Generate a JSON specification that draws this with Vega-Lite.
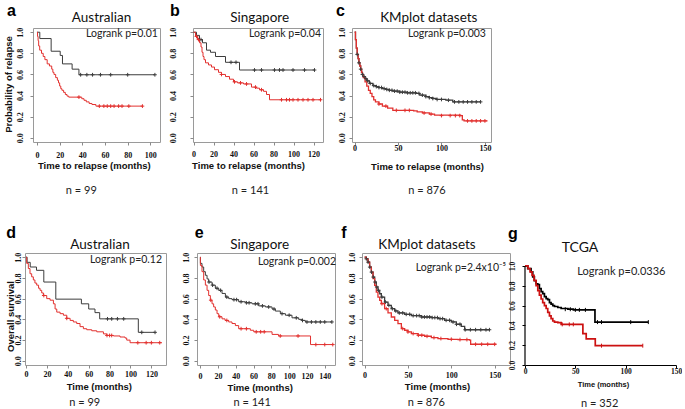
{
"$schema": "https://vega.github.io/schema/vega-lite/v6.json",
"background": "white",
"padding": {"left": 3, "top": 2, "right": 0, "bottom": 0},
"datasets": {
"labels": [
{"p":"a","letter":"a","name":"Australian","logrank":"Logrank p=0.01","n":"n = 99"},
{"p":"b","letter":"b","name":"Singapore","logrank":"Logrank p=0.04","n":"n = 141"},
{"p":"c","letter":"c","name":"KMplot datasets","logrank":"Logrank p=0.003","n":"n = 876"},
{"p":"d","letter":"d","name":"Australian","logrank":"Logrank p=0.12","n":"n = 99"},
{"p":"e","letter":"e","name":"Singapore","logrank":"Logrank p=0.002","n":"n = 141"},
{"p":"f","letter":"f","name":"KMplot datasets","logrank":"Logrank p=2.4x10⁻⁵","n":"n = 876"},
{"p":"g","letter":"g","name":"TCGA","logrank":"Logrank p=0.0336","n":"n = 352"}
],
"curves": [
{"p":"a","grp":"G1","month":0,"surv":1},{"p":"a","grp":"G1","month":2.5,"surv":0.94},{"p":"a","grp":"G1","month":12.5,"surv":0.82},{"p":"a","grp":"G1","month":20.5,"surv":0.78},{"p":"a","grp":"G1","month":22.5,"surv":0.70},{"p":"a","grp":"G1","month":31,"surv":0.65},{"p":"a","grp":"G1","month":37,"surv":0.597},{"p":"a","grp":"G1","month":104,"surv":0.597},
{"p":"a","grp":"G2","month":0,"surv":1},{"p":"a","grp":"G2","month":0.5,"surv":0.96},{"p":"a","grp":"G2","month":1,"surv":0.92},{"p":"a","grp":"G2","month":1.5,"surv":0.87},{"p":"a","grp":"G2","month":2.4,"surv":0.83},{"p":"a","grp":"G2","month":4,"surv":0.80},{"p":"a","grp":"G2","month":5.5,"surv":0.77},{"p":"a","grp":"G2","month":7,"surv":0.74},{"p":"a","grp":"G2","month":9,"surv":0.70},{"p":"a","grp":"G2","month":11,"surv":0.68},{"p":"a","grp":"G2","month":13,"surv":0.65},{"p":"a","grp":"G2","month":14,"surv":0.62},{"p":"a","grp":"G2","month":15,"surv":0.60},{"p":"a","grp":"G2","month":16.5,"surv":0.57},{"p":"a","grp":"G2","month":18,"surv":0.545},{"p":"a","grp":"G2","month":19,"surv":0.52},{"p":"a","grp":"G2","month":20,"surv":0.49},{"p":"a","grp":"G2","month":21,"surv":0.465},{"p":"a","grp":"G2","month":22,"surv":0.45},{"p":"a","grp":"G2","month":23.5,"surv":0.43},{"p":"a","grp":"G2","month":25,"surv":0.41},{"p":"a","grp":"G2","month":26.5,"surv":0.395},{"p":"a","grp":"G2","month":28,"surv":0.385},{"p":"a","grp":"G2","month":39.5,"surv":0.37},{"p":"a","grp":"G2","month":41.5,"surv":0.355},{"p":"a","grp":"G2","month":43.5,"surv":0.34},{"p":"a","grp":"G2","month":46,"surv":0.325},{"p":"a","grp":"G2","month":48.5,"surv":0.315},{"p":"a","grp":"G2","month":52,"surv":0.30},{"p":"a","grp":"G2","month":93,"surv":0.30},
{"p":"b","grp":"G1","month":0,"surv":1},{"p":"b","grp":"G1","month":3,"surv":0.97},{"p":"b","grp":"G1","month":6,"surv":0.93},{"p":"b","grp":"G1","month":9,"surv":0.90},{"p":"b","grp":"G1","month":13,"surv":0.83},{"p":"b","grp":"G1","month":17,"surv":0.81},{"p":"b","grp":"G1","month":22,"surv":0.77},{"p":"b","grp":"G1","month":32,"surv":0.715},{"p":"b","grp":"G1","month":46,"surv":0.642},{"p":"b","grp":"G1","month":121,"surv":0.642},
{"p":"b","grp":"G2","month":0,"surv":1},{"p":"b","grp":"G2","month":2,"surv":0.96},{"p":"b","grp":"G2","month":4,"surv":0.93},{"p":"b","grp":"G2","month":6,"surv":0.90},{"p":"b","grp":"G2","month":7.5,"surv":0.86},{"p":"b","grp":"G2","month":8.5,"surv":0.81},{"p":"b","grp":"G2","month":9.5,"surv":0.77},{"p":"b","grp":"G2","month":10.5,"surv":0.74},{"p":"b","grp":"G2","month":12,"surv":0.71},{"p":"b","grp":"G2","month":15,"surv":0.69},{"p":"b","grp":"G2","month":18,"surv":0.67},{"p":"b","grp":"G2","month":21,"surv":0.645},{"p":"b","grp":"G2","month":25,"surv":0.62},{"p":"b","grp":"G2","month":28,"surv":0.60},{"p":"b","grp":"G2","month":32,"surv":0.58},{"p":"b","grp":"G2","month":36,"surv":0.555},{"p":"b","grp":"G2","month":40,"surv":0.53},{"p":"b","grp":"G2","month":44,"surv":0.52},{"p":"b","grp":"G2","month":50,"surv":0.51},{"p":"b","grp":"G2","month":58,"surv":0.48},{"p":"b","grp":"G2","month":63,"surv":0.47},{"p":"b","grp":"G2","month":66,"surv":0.455},{"p":"b","grp":"G2","month":70,"surv":0.44},{"p":"b","grp":"G2","month":73,"surv":0.41},{"p":"b","grp":"G2","month":76,"surv":0.36},{"p":"b","grp":"G2","month":127,"surv":0.36},
{"p":"c","grp":"G1","month":0,"surv":1},{"p":"c","grp":"G1","month":1,"surv":0.93},{"p":"c","grp":"G1","month":2,"surv":0.85},{"p":"c","grp":"G1","month":3,"surv":0.79},{"p":"c","grp":"G1","month":4,"surv":0.75},{"p":"c","grp":"G1","month":5,"surv":0.71},{"p":"c","grp":"G1","month":6,"surv":0.68},{"p":"c","grp":"G1","month":7,"surv":0.65},{"p":"c","grp":"G1","month":8,"surv":0.62},{"p":"c","grp":"G1","month":9,"surv":0.60},{"p":"c","grp":"G1","month":10,"surv":0.58},{"p":"c","grp":"G1","month":12,"surv":0.56},{"p":"c","grp":"G1","month":14,"surv":0.54},{"p":"c","grp":"G1","month":17,"surv":0.515},{"p":"c","grp":"G1","month":21,"surv":0.495},{"p":"c","grp":"G1","month":25,"surv":0.485},{"p":"c","grp":"G1","month":28,"surv":0.476},{"p":"c","grp":"G1","month":32,"surv":0.466},{"p":"c","grp":"G1","month":36,"surv":0.458},{"p":"c","grp":"G1","month":40,"surv":0.45},{"p":"c","grp":"G1","month":44,"surv":0.442},{"p":"c","grp":"G1","month":52,"surv":0.432},{"p":"c","grp":"G1","month":60,"surv":0.426},{"p":"c","grp":"G1","month":71,"surv":0.42},{"p":"c","grp":"G1","month":75,"surv":0.404},{"p":"c","grp":"G1","month":82,"surv":0.39},{"p":"c","grp":"G1","month":86,"surv":0.38},{"p":"c","grp":"G1","month":90,"surv":0.372},{"p":"c","grp":"G1","month":94,"surv":0.363},{"p":"c","grp":"G1","month":105,"surv":0.356},{"p":"c","grp":"G1","month":113,"surv":0.34},{"p":"c","grp":"G1","month":145,"surv":0.34},
{"p":"c","grp":"G2","month":0,"surv":1},{"p":"c","grp":"G2","month":1,"surv":0.93},{"p":"c","grp":"G2","month":2,"surv":0.85},{"p":"c","grp":"G2","month":3,"surv":0.79},{"p":"c","grp":"G2","month":4,"surv":0.75},{"p":"c","grp":"G2","month":5,"surv":0.71},{"p":"c","grp":"G2","month":6,"surv":0.68},{"p":"c","grp":"G2","month":7,"surv":0.65},{"p":"c","grp":"G2","month":8,"surv":0.62},{"p":"c","grp":"G2","month":9,"surv":0.60},{"p":"c","grp":"G2","month":10,"surv":0.57},{"p":"c","grp":"G2","month":12,"surv":0.53},{"p":"c","grp":"G2","month":14,"surv":0.49},{"p":"c","grp":"G2","month":16,"surv":0.45},{"p":"c","grp":"G2","month":18,"surv":0.42},{"p":"c","grp":"G2","month":20,"surv":0.39},{"p":"c","grp":"G2","month":22,"surv":0.36},{"p":"c","grp":"G2","month":24,"surv":0.34},{"p":"c","grp":"G2","month":28,"surv":0.32},{"p":"c","grp":"G2","month":32,"surv":0.30},{"p":"c","grp":"G2","month":38,"surv":0.28},{"p":"c","grp":"G2","month":44,"surv":0.26},{"p":"c","grp":"G2","month":68,"surv":0.255},{"p":"c","grp":"G2","month":72,"surv":0.245},{"p":"c","grp":"G2","month":78,"surv":0.235},{"p":"c","grp":"G2","month":86,"surv":0.225},{"p":"c","grp":"G2","month":92,"surv":0.215},{"p":"c","grp":"G2","month":122,"surv":0.21},{"p":"c","grp":"G2","month":124,"surv":0.17},{"p":"c","grp":"G2","month":126,"surv":0.16},{"p":"c","grp":"G2","month":153,"surv":0.16},
{"p":"d","grp":"G1","month":0,"surv":1},{"p":"d","grp":"G1","month":1,"surv":0.95},{"p":"d","grp":"G1","month":4,"surv":0.905},{"p":"d","grp":"G1","month":10,"surv":0.873},{"p":"d","grp":"G1","month":17,"surv":0.76},{"p":"d","grp":"G1","month":28.5,"surv":0.595},{"p":"d","grp":"G1","month":53,"surv":0.55},{"p":"d","grp":"G1","month":60,"surv":0.50},{"p":"d","grp":"G1","month":66,"surv":0.465},{"p":"d","grp":"G1","month":70.5,"surv":0.405},{"p":"d","grp":"G1","month":107.5,"surv":0.275},{"p":"d","grp":"G1","month":123.5,"surv":0.275},
{"p":"d","grp":"G2","month":0,"surv":1},{"p":"d","grp":"G2","month":0.6,"surv":0.94},{"p":"d","grp":"G2","month":2.2,"surv":0.89},{"p":"d","grp":"G2","month":3.8,"surv":0.84},{"p":"d","grp":"G2","month":5.4,"surv":0.81},{"p":"d","grp":"G2","month":7,"surv":0.78},{"p":"d","grp":"G2","month":8.5,"surv":0.75},{"p":"d","grp":"G2","month":10.2,"surv":0.73},{"p":"d","grp":"G2","month":12,"surv":0.70},{"p":"d","grp":"G2","month":13.4,"surv":0.68},{"p":"d","grp":"G2","month":15,"surv":0.655},{"p":"d","grp":"G2","month":16.6,"surv":0.63},{"p":"d","grp":"G2","month":19.8,"surv":0.60},{"p":"d","grp":"G2","month":23,"surv":0.585},{"p":"d","grp":"G2","month":26.2,"surv":0.55},{"p":"d","grp":"G2","month":27.8,"surv":0.50},{"p":"d","grp":"G2","month":29.4,"surv":0.47},{"p":"d","grp":"G2","month":32.6,"surv":0.455},{"p":"d","grp":"G2","month":35.8,"surv":0.44},{"p":"d","grp":"G2","month":39,"surv":0.41},{"p":"d","grp":"G2","month":42.2,"surv":0.39},{"p":"d","grp":"G2","month":45.3,"surv":0.375},{"p":"d","grp":"G2","month":48.5,"surv":0.36},{"p":"d","grp":"G2","month":51.7,"surv":0.33},{"p":"d","grp":"G2","month":54.9,"surv":0.31},{"p":"d","grp":"G2","month":58.1,"surv":0.30},{"p":"d","grp":"G2","month":62.9,"surv":0.29},{"p":"d","grp":"G2","month":67.7,"surv":0.28},{"p":"d","grp":"G2","month":74.1,"surv":0.26},{"p":"d","grp":"G2","month":77.3,"surv":0.245},{"p":"d","grp":"G2","month":83.7,"surv":0.24},{"p":"d","grp":"G2","month":90,"surv":0.23},{"p":"d","grp":"G2","month":94.8,"surv":0.22},{"p":"d","grp":"G2","month":96.4,"surv":0.20},{"p":"d","grp":"G2","month":99.6,"surv":0.175},{"p":"d","grp":"G2","month":130,"surv":0.175},
{"p":"e","grp":"G1","month":0,"surv":1},{"p":"e","grp":"G1","month":0.3,"surv":0.94},{"p":"e","grp":"G1","month":2.1,"surv":0.905},{"p":"e","grp":"G1","month":4,"surv":0.86},{"p":"e","grp":"G1","month":5.9,"surv":0.825},{"p":"e","grp":"G1","month":7.8,"surv":0.79},{"p":"e","grp":"G1","month":9.6,"surv":0.76},{"p":"e","grp":"G1","month":13.4,"surv":0.73},{"p":"e","grp":"G1","month":17.1,"surv":0.70},{"p":"e","grp":"G1","month":20.9,"surv":0.68},{"p":"e","grp":"G1","month":24.6,"surv":0.65},{"p":"e","grp":"G1","month":28.4,"surv":0.615},{"p":"e","grp":"G1","month":32.1,"surv":0.60},{"p":"e","grp":"G1","month":35.8,"surv":0.59},{"p":"e","grp":"G1","month":43.3,"surv":0.57},{"p":"e","grp":"G1","month":50.8,"surv":0.56},{"p":"e","grp":"G1","month":58.3,"surv":0.55},{"p":"e","grp":"G1","month":65.8,"surv":0.53},{"p":"e","grp":"G1","month":73.3,"surv":0.52},{"p":"e","grp":"G1","month":80.8,"surv":0.50},{"p":"e","grp":"G1","month":84.5,"surv":0.48},{"p":"e","grp":"G1","month":90.1,"surv":0.455},{"p":"e","grp":"G1","month":95.8,"surv":0.44},{"p":"e","grp":"G1","month":103.2,"surv":0.415},{"p":"e","grp":"G1","month":110.7,"surv":0.40},{"p":"e","grp":"G1","month":114.5,"surv":0.39},{"p":"e","grp":"G1","month":118.2,"surv":0.375},{"p":"e","grp":"G1","month":148,"surv":0.375},
{"p":"e","grp":"G2","month":0,"surv":1},{"p":"e","grp":"G2","month":0.3,"surv":0.92},{"p":"e","grp":"G2","month":2.1,"surv":0.86},{"p":"e","grp":"G2","month":4,"surv":0.78},{"p":"e","grp":"G2","month":5.9,"surv":0.73},{"p":"e","grp":"G2","month":7.8,"surv":0.68},{"p":"e","grp":"G2","month":9.6,"surv":0.63},{"p":"e","grp":"G2","month":11.5,"surv":0.585},{"p":"e","grp":"G2","month":13.4,"surv":0.55},{"p":"e","grp":"G2","month":15.2,"surv":0.52},{"p":"e","grp":"G2","month":17.1,"surv":0.49},{"p":"e","grp":"G2","month":19,"surv":0.455},{"p":"e","grp":"G2","month":20.9,"surv":0.425},{"p":"e","grp":"G2","month":24.6,"surv":0.405},{"p":"e","grp":"G2","month":28,"surv":0.39},{"p":"e","grp":"G2","month":32.1,"surv":0.375},{"p":"e","grp":"G2","month":35.8,"surv":0.36},{"p":"e","grp":"G2","month":39.6,"surv":0.34},{"p":"e","grp":"G2","month":43.3,"surv":0.31},{"p":"e","grp":"G2","month":56.4,"surv":0.295},{"p":"e","grp":"G2","month":60.2,"surv":0.28},{"p":"e","grp":"G2","month":80.8,"surv":0.255},{"p":"e","grp":"G2","month":88,"surv":0.24},{"p":"e","grp":"G2","month":124,"surv":0.157},{"p":"e","grp":"G2","month":149,"surv":0.157},
{"p":"f","grp":"G1","month":0,"surv":1},{"p":"f","grp":"G1","month":2,"surv":0.984},{"p":"f","grp":"G1","month":3.9,"surv":0.952},{"p":"f","grp":"G1","month":5.8,"surv":0.904},{"p":"f","grp":"G1","month":7.8,"surv":0.856},{"p":"f","grp":"G1","month":9.7,"surv":0.808},{"p":"f","grp":"G1","month":11.6,"surv":0.76},{"p":"f","grp":"G1","month":13.5,"surv":0.712},{"p":"f","grp":"G1","month":15.4,"surv":0.68},{"p":"f","grp":"G1","month":17.4,"surv":0.647},{"p":"f","grp":"G1","month":19.3,"surv":0.615},{"p":"f","grp":"G1","month":23.1,"surv":0.567},{"p":"f","grp":"G1","month":27,"surv":0.535},{"p":"f","grp":"G1","month":30.8,"surv":0.503},{"p":"f","grp":"G1","month":34.7,"surv":0.481},{"p":"f","grp":"G1","month":38.5,"surv":0.462},{"p":"f","grp":"G1","month":46.2,"surv":0.449},{"p":"f","grp":"G1","month":53.9,"surv":0.436},{"p":"f","grp":"G1","month":65.4,"surv":0.423},{"p":"f","grp":"G1","month":76.9,"surv":0.417},{"p":"f","grp":"G1","month":84.6,"surv":0.407},{"p":"f","grp":"G1","month":92.3,"surv":0.391},{"p":"f","grp":"G1","month":100,"surv":0.375},{"p":"f","grp":"G1","month":105.8,"surv":0.353},{"p":"f","grp":"G1","month":111.5,"surv":0.333},{"p":"f","grp":"G1","month":115.4,"surv":0.30},{"p":"f","grp":"G1","month":144,"surv":0.30},
{"p":"f","grp":"G2","month":0,"surv":1},{"p":"f","grp":"G2","month":2,"surv":0.984},{"p":"f","grp":"G2","month":3.9,"surv":0.952},{"p":"f","grp":"G2","month":5.8,"surv":0.904},{"p":"f","grp":"G2","month":7.8,"surv":0.856},{"p":"f","grp":"G2","month":9.7,"surv":0.792},{"p":"f","grp":"G2","month":11.6,"surv":0.728},{"p":"f","grp":"G2","month":13.5,"surv":0.663},{"p":"f","grp":"G2","month":15.4,"surv":0.615},{"p":"f","grp":"G2","month":17.4,"surv":0.583},{"p":"f","grp":"G2","month":19.3,"surv":0.551},{"p":"f","grp":"G2","month":23.1,"surv":0.503},{"p":"f","grp":"G2","month":27,"surv":0.462},{"p":"f","grp":"G2","month":30.8,"surv":0.423},{"p":"f","grp":"G2","month":34.7,"surv":0.391},{"p":"f","grp":"G2","month":38.5,"surv":0.359},{"p":"f","grp":"G2","month":42.4,"surv":0.311},{"p":"f","grp":"G2","month":46.2,"surv":0.295},{"p":"f","grp":"G2","month":50,"surv":0.279},{"p":"f","grp":"G2","month":53.9,"surv":0.263},{"p":"f","grp":"G2","month":61.6,"surv":0.247},{"p":"f","grp":"G2","month":69.3,"surv":0.237},{"p":"f","grp":"G2","month":77,"surv":0.224},{"p":"f","grp":"G2","month":84.6,"surv":0.215},{"p":"f","grp":"G2","month":96.2,"surv":0.208},{"p":"f","grp":"G2","month":107.7,"surv":0.205},{"p":"f","grp":"G2","month":121,"surv":0.199},{"p":"f","grp":"G2","month":122.3,"surv":0.16},{"p":"f","grp":"G2","month":152,"surv":0.16},
{"p":"g","grp":"G1","month":0,"surv":1},{"p":"g","grp":"G1","month":2.7,"surv":0.973},{"p":"g","grp":"G1","month":6,"surv":0.94},{"p":"g","grp":"G1","month":7.7,"surv":0.89},{"p":"g","grp":"G1","month":9.3,"surv":0.85},{"p":"g","grp":"G1","month":11,"surv":0.82},{"p":"g","grp":"G1","month":12.7,"surv":0.81},{"p":"g","grp":"G1","month":14.3,"surv":0.77},{"p":"g","grp":"G1","month":16,"surv":0.74},{"p":"g","grp":"G1","month":17.6,"surv":0.72},{"p":"g","grp":"G1","month":19.3,"surv":0.69},{"p":"g","grp":"G1","month":21,"surv":0.67},{"p":"g","grp":"G1","month":22.6,"surv":0.66},{"p":"g","grp":"G1","month":24.3,"surv":0.63},{"p":"g","grp":"G1","month":25.9,"surv":0.615},{"p":"g","grp":"G1","month":27.6,"surv":0.60},{"p":"g","grp":"G1","month":29.3,"surv":0.59},{"p":"g","grp":"G1","month":32.6,"surv":0.58},{"p":"g","grp":"G1","month":35.9,"surv":0.57},{"p":"g","grp":"G1","month":42.6,"surv":0.563},{"p":"g","grp":"G1","month":48,"surv":0.556},{"p":"g","grp":"G1","month":69.5,"surv":0.433},{"p":"g","grp":"G1","month":122.5,"surv":0.433},
{"p":"g","grp":"G2","month":0,"surv":1},{"p":"g","grp":"G2","month":3,"surv":0.973},{"p":"g","grp":"G2","month":5,"surv":0.94},{"p":"g","grp":"G2","month":7,"surv":0.905},{"p":"g","grp":"G2","month":9,"surv":0.853},{"p":"g","grp":"G2","month":11,"surv":0.80},{"p":"g","grp":"G2","month":12.7,"surv":0.75},{"p":"g","grp":"G2","month":14.3,"surv":0.706},{"p":"g","grp":"G2","month":16,"surv":0.666},{"p":"g","grp":"G2","month":17.6,"surv":0.63},{"p":"g","grp":"G2","month":19.3,"surv":0.60},{"p":"g","grp":"G2","month":21,"surv":0.57},{"p":"g","grp":"G2","month":22.6,"surv":0.53},{"p":"g","grp":"G2","month":24.3,"surv":0.495},{"p":"g","grp":"G2","month":25.9,"surv":0.468},{"p":"g","grp":"G2","month":27.6,"surv":0.444},{"p":"g","grp":"G2","month":29.3,"surv":0.433},{"p":"g","grp":"G2","month":32.6,"surv":0.427},{"p":"g","grp":"G2","month":35.9,"surv":0.41},{"p":"g","grp":"G2","month":57.5,"surv":0.317},{"p":"g","grp":"G2","month":60.8,"surv":0.263},{"p":"g","grp":"G2","month":69.8,"surv":0.195},{"p":"g","grp":"G2","month":117,"surv":0.195}
],
"censors": [
{"p":"a","grp":"G1","month":38.5,"surv":0.597},{"p":"a","grp":"G1","month":44,"surv":0.597},{"p":"a","grp":"G1","month":49,"surv":0.597},{"p":"a","grp":"G1","month":56,"surv":0.597},{"p":"a","grp":"G1","month":65,"surv":0.597},{"p":"a","grp":"G1","month":80,"surv":0.597},{"p":"a","grp":"G1","month":104,"surv":0.597},
{"p":"a","grp":"G2","month":37,"surv":0.385},{"p":"a","grp":"G2","month":55,"surv":0.30},{"p":"a","grp":"G2","month":59,"surv":0.30},{"p":"a","grp":"G2","month":62,"surv":0.30},{"p":"a","grp":"G2","month":65,"surv":0.30},{"p":"a","grp":"G2","month":68,"surv":0.30},{"p":"a","grp":"G2","month":72,"surv":0.30},{"p":"a","grp":"G2","month":75,"surv":0.30},{"p":"a","grp":"G2","month":81,"surv":0.30},{"p":"a","grp":"G2","month":93,"surv":0.30},
{"p":"b","grp":"G1","month":7.5,"surv":0.93},{"p":"b","grp":"G1","month":37.5,"surv":0.715},{"p":"b","grp":"G1","month":42.5,"surv":0.715},{"p":"b","grp":"G1","month":61,"surv":0.642},{"p":"b","grp":"G1","month":68,"surv":0.642},{"p":"b","grp":"G1","month":81,"surv":0.642},{"p":"b","grp":"G1","month":86,"surv":0.642},{"p":"b","grp":"G1","month":89.5,"surv":0.642},{"p":"b","grp":"G1","month":99.5,"surv":0.642},{"p":"b","grp":"G1","month":111,"surv":0.642},{"p":"b","grp":"G1","month":121,"surv":0.642},
{"p":"b","grp":"G2","month":3,"surv":0.96},{"p":"b","grp":"G2","month":5,"surv":0.93},{"p":"b","grp":"G2","month":28,"surv":0.60},{"p":"b","grp":"G2","month":41,"surv":0.53},{"p":"b","grp":"G2","month":47,"surv":0.52},{"p":"b","grp":"G2","month":53,"surv":0.51},{"p":"b","grp":"G2","month":62,"surv":0.48},{"p":"b","grp":"G2","month":68,"surv":0.455},{"p":"b","grp":"G2","month":88,"surv":0.36},{"p":"b","grp":"G2","month":93,"surv":0.36},{"p":"b","grp":"G2","month":96,"surv":0.36},{"p":"b","grp":"G2","month":99.5,"surv":0.36},{"p":"b","grp":"G2","month":104.5,"surv":0.36},{"p":"b","grp":"G2","month":109.5,"surv":0.36},{"p":"b","grp":"G2","month":114.5,"surv":0.36},{"p":"b","grp":"G2","month":119.5,"surv":0.36},{"p":"b","grp":"G2","month":127,"surv":0.36},
{"p":"c","grp":"G1","month":3,"surv":0.79},{"p":"c","grp":"G1","month":5,"surv":0.71},{"p":"c","grp":"G1","month":7,"surv":0.65},{"p":"c","grp":"G1","month":9,"surv":0.60},{"p":"c","grp":"G1","month":11,"surv":0.58},{"p":"c","grp":"G1","month":13,"surv":0.56},{"p":"c","grp":"G1","month":15,"surv":0.54},{"p":"c","grp":"G1","month":18,"surv":0.515},{"p":"c","grp":"G1","month":22,"surv":0.495},{"p":"c","grp":"G1","month":25,"surv":0.485},{"p":"c","grp":"G1","month":28,"surv":0.476},{"p":"c","grp":"G1","month":31,"surv":0.476},{"p":"c","grp":"G1","month":34,"surv":0.466},{"p":"c","grp":"G1","month":37,"surv":0.458},{"p":"c","grp":"G1","month":40,"surv":0.45},{"p":"c","grp":"G1","month":43,"surv":0.45},{"p":"c","grp":"G1","month":46,"surv":0.442},{"p":"c","grp":"G1","month":49,"surv":0.442},{"p":"c","grp":"G1","month":52,"surv":0.432},{"p":"c","grp":"G1","month":55,"surv":0.432},{"p":"c","grp":"G1","month":58,"surv":0.432},{"p":"c","grp":"G1","month":61,"surv":0.426},{"p":"c","grp":"G1","month":64,"surv":0.426},{"p":"c","grp":"G1","month":67,"surv":0.426},{"p":"c","grp":"G1","month":70,"surv":0.426},{"p":"c","grp":"G1","month":74,"surv":0.42},{"p":"c","grp":"G1","month":78,"surv":0.404},{"p":"c","grp":"G1","month":82,"surv":0.39},{"p":"c","grp":"G1","month":86,"surv":0.38},{"p":"c","grp":"G1","month":90,"surv":0.372},{"p":"c","grp":"G1","month":95,"surv":0.363},{"p":"c","grp":"G1","month":100,"surv":0.363},{"p":"c","grp":"G1","month":108,"surv":0.356},{"p":"c","grp":"G1","month":115,"surv":0.34},{"p":"c","grp":"G1","month":120,"surv":0.34},{"p":"c","grp":"G1","month":125,"surv":0.34},{"p":"c","grp":"G1","month":130,"surv":0.34},{"p":"c","grp":"G1","month":135,"surv":0.34},{"p":"c","grp":"G1","month":140,"surv":0.34},{"p":"c","grp":"G1","month":145,"surv":0.34},
{"p":"c","grp":"G2","month":28,"surv":0.32},{"p":"c","grp":"G2","month":36,"surv":0.30},{"p":"c","grp":"G2","month":48,"surv":0.26},{"p":"c","grp":"G2","month":58,"surv":0.26},{"p":"c","grp":"G2","month":63,"surv":0.26},{"p":"c","grp":"G2","month":80,"surv":0.235},{"p":"c","grp":"G2","month":88,"surv":0.225},{"p":"c","grp":"G2","month":100,"surv":0.21},{"p":"c","grp":"G2","month":110,"surv":0.21},{"p":"c","grp":"G2","month":116,"surv":0.21},{"p":"c","grp":"G2","month":121,"surv":0.21},{"p":"c","grp":"G2","month":130,"surv":0.16},{"p":"c","grp":"G2","month":135,"surv":0.16},{"p":"c","grp":"G2","month":140,"surv":0.16},{"p":"c","grp":"G2","month":145,"surv":0.16},{"p":"c","grp":"G2","month":150,"surv":0.16},
{"p":"d","grp":"G1","month":78,"surv":0.405},{"p":"d","grp":"G1","month":82,"surv":0.405},{"p":"d","grp":"G1","month":87.5,"surv":0.405},{"p":"d","grp":"G1","month":93.5,"surv":0.405},{"p":"d","grp":"G1","month":110.8,"surv":0.275},{"p":"d","grp":"G1","month":123.5,"surv":0.275},
{"p":"d","grp":"G2","month":17,"surv":0.63},{"p":"d","grp":"G2","month":39,"surv":0.41},{"p":"d","grp":"G2","month":77.5,"surv":0.245},{"p":"d","grp":"G2","month":80,"surv":0.245},{"p":"d","grp":"G2","month":82,"surv":0.245},{"p":"d","grp":"G2","month":107,"surv":0.175},{"p":"d","grp":"G2","month":115,"surv":0.175},{"p":"d","grp":"G2","month":120,"surv":0.175},{"p":"d","grp":"G2","month":128,"surv":0.175},
{"p":"e","grp":"G1","month":10,"surv":0.76},{"p":"e","grp":"G1","month":14,"surv":0.73},{"p":"e","grp":"G1","month":19,"surv":0.70},{"p":"e","grp":"G1","month":23,"surv":0.68},{"p":"e","grp":"G1","month":30,"surv":0.615},{"p":"e","grp":"G1","month":38,"surv":0.59},{"p":"e","grp":"G1","month":41,"surv":0.59},{"p":"e","grp":"G1","month":46,"surv":0.57},{"p":"e","grp":"G1","month":52,"surv":0.56},{"p":"e","grp":"G1","month":55,"surv":0.56},{"p":"e","grp":"G1","month":62,"surv":0.55},{"p":"e","grp":"G1","month":65,"surv":0.55},{"p":"e","grp":"G1","month":70,"surv":0.53},{"p":"e","grp":"G1","month":77,"surv":0.52},{"p":"e","grp":"G1","month":83,"surv":0.50},{"p":"e","grp":"G1","month":92,"surv":0.455},{"p":"e","grp":"G1","month":100,"surv":0.44},{"p":"e","grp":"G1","month":108,"surv":0.415},{"p":"e","grp":"G1","month":115,"surv":0.39},{"p":"e","grp":"G1","month":120,"surv":0.375},{"p":"e","grp":"G1","month":125,"surv":0.375},{"p":"e","grp":"G1","month":130,"surv":0.375},{"p":"e","grp":"G1","month":135,"surv":0.375},{"p":"e","grp":"G1","month":140,"surv":0.375},{"p":"e","grp":"G1","month":148,"surv":0.375},
{"p":"e","grp":"G2","month":12,"surv":0.585},{"p":"e","grp":"G2","month":22,"surv":0.425},{"p":"e","grp":"G2","month":30,"surv":0.39},{"p":"e","grp":"G2","month":46,"surv":0.31},{"p":"e","grp":"G2","month":52,"surv":0.31},{"p":"e","grp":"G2","month":63,"surv":0.28},{"p":"e","grp":"G2","month":68,"surv":0.28},{"p":"e","grp":"G2","month":72,"surv":0.28},{"p":"e","grp":"G2","month":90,"surv":0.24},{"p":"e","grp":"G2","month":110,"surv":0.24},{"p":"e","grp":"G2","month":130,"surv":0.157},{"p":"e","grp":"G2","month":140,"surv":0.157},{"p":"e","grp":"G2","month":149,"surv":0.157},
{"p":"f","grp":"G1","month":2,"surv":0.984},{"p":"f","grp":"G1","month":4,"surv":0.952},{"p":"f","grp":"G1","month":6,"surv":0.904},{"p":"f","grp":"G1","month":8,"surv":0.856},{"p":"f","grp":"G1","month":10,"surv":0.808},{"p":"f","grp":"G1","month":12,"surv":0.76},{"p":"f","grp":"G1","month":14,"surv":0.712},{"p":"f","grp":"G1","month":16,"surv":0.68},{"p":"f","grp":"G1","month":20,"surv":0.615},{"p":"f","grp":"G1","month":24,"surv":0.567},{"p":"f","grp":"G1","month":28,"surv":0.535},{"p":"f","grp":"G1","month":32,"surv":0.503},{"p":"f","grp":"G1","month":36,"surv":0.481},{"p":"f","grp":"G1","month":40,"surv":0.462},{"p":"f","grp":"G1","month":44,"surv":0.462},{"p":"f","grp":"G1","month":48,"surv":0.449},{"p":"f","grp":"G1","month":52,"surv":0.449},{"p":"f","grp":"G1","month":56,"surv":0.436},{"p":"f","grp":"G1","month":60,"surv":0.436},{"p":"f","grp":"G1","month":63,"surv":0.436},{"p":"f","grp":"G1","month":66,"surv":0.423},{"p":"f","grp":"G1","month":69,"surv":0.423},{"p":"f","grp":"G1","month":72,"surv":0.423},{"p":"f","grp":"G1","month":75,"surv":0.423},{"p":"f","grp":"G1","month":78,"surv":0.417},{"p":"f","grp":"G1","month":81,"surv":0.417},{"p":"f","grp":"G1","month":84,"surv":0.417},{"p":"f","grp":"G1","month":87,"surv":0.407},{"p":"f","grp":"G1","month":90,"surv":0.407},{"p":"f","grp":"G1","month":94,"surv":0.391},{"p":"f","grp":"G1","month":98,"surv":0.391},{"p":"f","grp":"G1","month":102,"surv":0.375},{"p":"f","grp":"G1","month":106,"surv":0.353},{"p":"f","grp":"G1","month":110,"surv":0.353},{"p":"f","grp":"G1","month":116,"surv":0.30},{"p":"f","grp":"G1","month":122,"surv":0.30},{"p":"f","grp":"G1","month":128,"surv":0.30},{"p":"f","grp":"G1","month":134,"surv":0.30},{"p":"f","grp":"G1","month":140,"surv":0.30},{"p":"f","grp":"G1","month":144,"surv":0.30},
{"p":"f","grp":"G2","month":20,"surv":0.551},{"p":"f","grp":"G2","month":25,"surv":0.503},{"p":"f","grp":"G2","month":44,"surv":0.311},{"p":"f","grp":"G2","month":50,"surv":0.279},{"p":"f","grp":"G2","month":56,"surv":0.263},{"p":"f","grp":"G2","month":62,"surv":0.247},{"p":"f","grp":"G2","month":66,"surv":0.247},{"p":"f","grp":"G2","month":72,"surv":0.237},{"p":"f","grp":"G2","month":80,"surv":0.224},{"p":"f","grp":"G2","month":88,"surv":0.215},{"p":"f","grp":"G2","month":100,"surv":0.208},{"p":"f","grp":"G2","month":110,"surv":0.205},{"p":"f","grp":"G2","month":118,"surv":0.205},{"p":"f","grp":"G2","month":128,"surv":0.16},{"p":"f","grp":"G2","month":135,"surv":0.16},{"p":"f","grp":"G2","month":142,"surv":0.16},{"p":"f","grp":"G2","month":150,"surv":0.16},
{"p":"g","grp":"G1","month":40,"surv":0.563},{"p":"g","grp":"G1","month":45,"surv":0.563},{"p":"g","grp":"G1","month":50,"surv":0.556},{"p":"g","grp":"G1","month":54,"surv":0.556},{"p":"g","grp":"G1","month":60,"surv":0.556},{"p":"g","grp":"G1","month":72,"surv":0.433},{"p":"g","grp":"G1","month":76,"surv":0.433},{"p":"g","grp":"G1","month":105,"surv":0.433},{"p":"g","grp":"G1","month":122.5,"surv":0.433},
{"p":"g","grp":"G2","month":37,"surv":0.41},{"p":"g","grp":"G2","month":44,"surv":0.41},{"p":"g","grp":"G2","month":48,"surv":0.41},{"p":"g","grp":"G2","month":76,"surv":0.195},{"p":"g","grp":"G2","month":117,"surv":0.195}
]
},
"vconcat": [
{
"hconcat": [
{"width": 8, "height": 114, "data": {"values": []}, "mark": "point", "view": {"stroke": null}},
{"width": 127, "height": 114, "resolve": {"axis": {"x": "independent", "y": "independent"}}, "layer": [
 {"data": {"name": "curves"}, "transform": [{"filter": "datum.p === 'a'"}], "mark": {"type": "line", "interpolate": "step-after", "strokeWidth": 1},
  "encoding": {
   "x": {"field": "month", "type": "quantitative", "scale": {"domain": [-3.5, 108.5], "nice": false, "zero": false}, "axis": {"values": [0, 20, 40, 60, 80, 100], "labelOverlap": false, "labelFlush": false, "title": "Time to relapse (months)", "titleX": 60.8, "titleY": 26.5, "labelPadding": 6}},
   "y": {"field": "surv", "type": "quantitative", "scale": {"domain": [-0.04, 1.04], "nice": false, "zero": false}, "axis": {"values": [0, 0.2, 0.4, 0.6, 0.8, 1], "labelOverlap": false, "labelFlush": false, "format": ".1f", "title": "Probability of relapse", "titleX": -21.1, "titleY": 56, "labelPadding": 7.4}},
   "color": {"field": "grp", "type": "nominal", "scale": {"domain": ["G1", "G2"], "range": ["#3c3c3c", "#e2312f"]}, "legend": null}}},
 {"data": {"name": "censors"}, "transform": [{"filter": "datum.p === 'a'"}], "mark": {"type": "point", "shape": "M0,-1L0,1M-1,0L1,0", "filled": false, "size": 14, "strokeWidth": 1, "opacity": 1},
  "encoding": {"x": {"field": "month", "type": "quantitative", "axis": null}, "y": {"field": "surv", "type": "quantitative", "axis": null}, "color": {"field": "grp", "type": "nominal", "legend": null}}},
 {"data": {"name": "labels"}, "transform": [{"filter": "datum.p === 'a'"}], "mark": {"type": "text", "style": "letter"},
  "encoding": {"x": {"datum": -26.4, "type": "quantitative", "axis": null}, "y": {"datum": 1.149, "type": "quantitative", "axis": null}, "text": {"field": "letter"}}},
 {"data": {"name": "labels"}, "transform": [{"filter": "datum.p === 'a'"}], "mark": {"type": "text", "style": "pname"},
  "encoding": {"x": {"datum": 56.9, "type": "quantitative", "axis": null}, "y": {"datum": 1.097, "type": "quantitative", "axis": null}, "text": {"field": "name"}}},
 {"data": {"name": "labels"}, "transform": [{"filter": "datum.p === 'a'"}], "mark": {"type": "text", "style": "logrank"},
  "encoding": {"x": {"datum": 106.7, "type": "quantitative", "axis": null}, "y": {"datum": 0.959, "type": "quantitative", "axis": null}, "text": {"field": "logrank"}}},
 {"data": {"name": "labels"}, "transform": [{"filter": "datum.p === 'a'"}], "mark": {"type": "text", "style": "ncap"},
  "encoding": {"x": {"datum": 39.1, "type": "quantitative", "axis": null}, "y": {"datum": -0.537, "type": "quantitative", "axis": null}, "text": {"field": "n"}}}
]},
{"width": 33, "height": 114, "data": {"values": []}, "mark": "point", "view": {"stroke": null}},
{"width": 130, "height": 114, "resolve": {"axis": {"x": "independent", "y": "independent"}}, "layer": [
 {"data": {"name": "curves"}, "transform": [{"filter": "datum.p === 'b'"}], "mark": {"type": "line", "interpolate": "step-after", "strokeWidth": 1},
  "encoding": {
   "x": {"field": "month", "type": "quantitative", "scale": {"domain": [-0.5, 129.5], "nice": false, "zero": false}, "axis": {"values": [0, 20, 40, 60, 80, 100, 120], "labelOverlap": false, "labelFlush": false, "title": "Time to relapse (months)", "titleX": 55, "titleY": 26.5, "labelPadding": 5.3}},
   "y": {"field": "surv", "type": "quantitative", "scale": {"domain": [-0.04, 1.04], "nice": false, "zero": false}, "axis": {"values": [0, 0.2, 0.4, 0.6, 0.8, 1], "labelOverlap": false, "labelFlush": false, "format": ".1f", "title": null, "labelPadding": 14.7}},
   "color": {"field": "grp", "type": "nominal", "scale": {"domain": ["G1", "G2"], "range": ["#3c3c3c", "#e2312f"]}, "legend": null}}},
 {"data": {"name": "censors"}, "transform": [{"filter": "datum.p === 'b'"}], "mark": {"type": "point", "shape": "M0,-1L0,1M-1,0L1,0", "filled": false, "size": 14, "strokeWidth": 1, "opacity": 1},
  "encoding": {"x": {"field": "month", "type": "quantitative", "axis": null}, "y": {"field": "surv", "type": "quantitative", "axis": null}, "color": {"field": "grp", "type": "nominal", "legend": null}}},
 {"data": {"name": "labels"}, "transform": [{"filter": "datum.p === 'b'"}], "mark": {"type": "text", "style": "letter"},
  "encoding": {"x": {"datum": -23.5, "type": "quantitative", "axis": null}, "y": {"datum": 1.149, "type": "quantitative", "axis": null}, "text": {"field": "letter"}}},
 {"data": {"name": "labels"}, "transform": [{"filter": "datum.p === 'b'"}], "mark": {"type": "text", "style": "pname"},
  "encoding": {"x": {"datum": 66.2, "type": "quantitative", "axis": null}, "y": {"datum": 1.097, "type": "quantitative", "axis": null}, "text": {"field": "name"}}},
 {"data": {"name": "labels"}, "transform": [{"filter": "datum.p === 'b'"}], "mark": {"type": "text", "style": "logrank"},
  "encoding": {"x": {"datum": 127.5, "type": "quantitative", "axis": null}, "y": {"datum": 0.955, "type": "quantitative", "axis": null}, "text": {"field": "logrank"}}},
 {"data": {"name": "labels"}, "transform": [{"filter": "datum.p === 'b'"}], "mark": {"type": "text", "style": "ncap"},
  "encoding": {"x": {"datum": 57, "type": "quantitative", "axis": null}, "y": {"datum": -0.537, "type": "quantitative", "axis": null}, "text": {"field": "n"}}}
]},
{"width": 29, "height": 114, "data": {"values": []}, "mark": "point", "view": {"stroke": null}},
{"width": 139, "height": 114, "resolve": {"axis": {"x": "independent", "y": "independent"}}, "layer": [
 {"data": {"name": "curves"}, "transform": [{"filter": "datum.p === 'c'"}], "mark": {"type": "line", "interpolate": "step-after", "strokeWidth": 1.3},
  "encoding": {
   "x": {"field": "month", "type": "quantitative", "scale": {"domain": [-3, 157], "nice": false, "zero": false}, "axis": {"values": [0, 50, 100, 150], "labelOverlap": false, "labelFlush": false, "title": "Time to relapse (months)", "titleX": 75, "titleY": 27.5, "labelPadding": -1}},
   "y": {"field": "surv", "type": "quantitative", "scale": {"domain": [-0.04, 1.04], "nice": false, "zero": false}, "axis": {"values": [0, 0.2, 0.4, 0.6, 0.8, 1], "labelOverlap": false, "labelFlush": false, "format": ".1f", "title": null, "labelPadding": 4.3}},
   "color": {"field": "grp", "type": "nominal", "scale": {"domain": ["G1", "G2"], "range": ["#3c3c3c", "#e2312f"]}, "legend": null}}},
 {"data": {"name": "censors"}, "transform": [{"filter": "datum.p === 'c'"}], "mark": {"type": "point", "shape": "M0,-1L0,1M-1,0L1,0", "filled": false, "size": 14, "strokeWidth": 1, "opacity": 1},
  "encoding": {"x": {"field": "month", "type": "quantitative", "axis": null}, "y": {"field": "surv", "type": "quantitative", "axis": null}, "color": {"field": "grp", "type": "nominal", "legend": null}}},
 {"data": {"name": "labels"}, "transform": [{"filter": "datum.p === 'c'"}], "mark": {"type": "text", "style": "letter"},
  "encoding": {"x": {"datum": -21.4, "type": "quantitative", "axis": null}, "y": {"datum": 1.149, "type": "quantitative", "axis": null}, "text": {"field": "letter"}}},
 {"data": {"name": "labels"}, "transform": [{"filter": "datum.p === 'c'"}], "mark": {"type": "text", "style": "pname"},
  "encoding": {"x": {"datum": 85.4, "type": "quantitative", "axis": null}, "y": {"datum": 1.097, "type": "quantitative", "axis": null}, "text": {"field": "name"}}},
 {"data": {"name": "labels"}, "transform": [{"filter": "datum.p === 'c'"}], "mark": {"type": "text", "style": "logrank"},
  "encoding": {"x": {"datum": 151.2, "type": "quantitative", "axis": null}, "y": {"datum": 0.959, "type": "quantitative", "axis": null}, "text": {"field": "logrank"}}},
 {"data": {"name": "labels"}, "transform": [{"filter": "datum.p === 'c'"}], "mark": {"type": "text", "style": "ncap"},
  "encoding": {"x": {"datum": 83.3, "type": "quantitative", "axis": null}, "y": {"datum": -0.537, "type": "quantitative", "axis": null}, "text": {"field": "n"}}}
]}
],
"spacing": 0, "bounds": "flush", "resolve": {"scale": {"color": "independent"}}
},
{
"hconcat": [
{"width": 141, "height": 112, "resolve": {"axis": {"x": "independent", "y": "independent"}}, "layer": [
 {"data": {"name": "curves"}, "transform": [{"filter": "datum.p === 'd'"}], "mark": {"type": "line", "interpolate": "step-after", "strokeWidth": 1},
  "encoding": {
   "x": {"field": "month", "type": "quantitative", "scale": {"domain": [-1, 134], "nice": false, "zero": false}, "axis": {"values": [0, 20, 40, 60, 80, 100, 120], "labelOverlap": false, "labelFlush": false, "title": "Time (months)", "titleX": 73.8, "titleY": 24.5, "labelPadding": 2.7}},
   "y": {"field": "surv", "type": "quantitative", "scale": {"domain": [-0.04, 1.04], "nice": false, "zero": false}, "axis": {"values": [0, 0.2, 0.4, 0.6, 0.8, 1], "labelOverlap": false, "labelFlush": false, "format": ".1f", "title": "Overall survival", "titleX": -12, "titleY": 63, "labelPadding": 1.3}},
   "color": {"field": "grp", "type": "nominal", "scale": {"domain": ["G1", "G2"], "range": ["#3c3c3c", "#e2312f"]}, "legend": null}}},
 {"data": {"name": "censors"}, "transform": [{"filter": "datum.p === 'd'"}], "mark": {"type": "point", "shape": "M0,-1L0,1M-1,0L1,0", "filled": false, "size": 14, "strokeWidth": 1, "opacity": 1},
  "encoding": {"x": {"field": "month", "type": "quantitative", "axis": null}, "y": {"field": "surv", "type": "quantitative", "axis": null}, "color": {"field": "grp", "type": "nominal", "legend": null}}},
 {"data": {"name": "labels"}, "transform": [{"filter": "datum.p === 'd'"}], "mark": {"type": "text", "style": "letter"},
  "encoding": {"x": {"datum": -18.9, "type": "quantitative", "axis": null}, "y": {"datum": 1.18, "type": "quantitative", "axis": null}, "text": {"field": "letter"}}},
 {"data": {"name": "labels"}, "transform": [{"filter": "datum.p === 'd'"}], "mark": {"type": "text", "style": "pname"},
  "encoding": {"x": {"datum": 70.8, "type": "quantitative", "axis": null}, "y": {"datum": 1.074, "type": "quantitative", "axis": null}, "text": {"field": "name"}}},
 {"data": {"name": "labels"}, "transform": [{"filter": "datum.p === 'd'"}], "mark": {"type": "text", "style": "logrank"},
  "encoding": {"x": {"datum": 130.2, "type": "quantitative", "axis": null}, "y": {"datum": 0.948, "type": "quantitative", "axis": null}, "text": {"field": "logrank"}}},
 {"data": {"name": "labels"}, "transform": [{"filter": "datum.p === 'd'"}], "mark": {"type": "text", "style": "ncap"},
  "encoding": {"x": {"datum": 56.2, "type": "quantitative", "axis": null}, "y": {"datum": -0.44, "type": "quantitative", "axis": null}, "text": {"field": "n"}}}
]},
{"width": 31, "height": 112, "data": {"values": []}, "mark": "point", "view": {"stroke": null}},
{"width": 138, "height": 112, "resolve": {"axis": {"x": "independent", "y": "independent"}}, "layer": [
 {"data": {"name": "curves"}, "transform": [{"filter": "datum.p === 'e'"}], "mark": {"type": "line", "interpolate": "step-after", "strokeWidth": 1},
  "encoding": {
   "x": {"field": "month", "type": "quantitative", "scale": {"domain": [-3.5, 151.5], "nice": false, "zero": false}, "axis": {"values": [0, 20, 40, 60, 80, 100, 120, 140], "labelOverlap": false, "labelFlush": false, "title": "Time (months)", "titleX": 62.7, "titleY": 25, "labelPadding": 4.4}},
   "y": {"field": "surv", "type": "quantitative", "scale": {"domain": [-0.04, 1.04], "nice": false, "zero": false}, "axis": {"values": [0, 0.2, 0.4, 0.6, 0.8, 1], "labelOverlap": false, "labelFlush": false, "format": ".1f", "title": null, "labelPadding": 6}},
   "color": {"field": "grp", "type": "nominal", "scale": {"domain": ["G1", "G2"], "range": ["#3c3c3c", "#e2312f"]}, "legend": null}}},
 {"data": {"name": "censors"}, "transform": [{"filter": "datum.p === 'e'"}], "mark": {"type": "point", "shape": "M0,-1L0,1M-1,0L1,0", "filled": false, "size": 14, "strokeWidth": 1, "opacity": 1},
  "encoding": {"x": {"field": "month", "type": "quantitative", "axis": null}, "y": {"field": "surv", "type": "quantitative", "axis": null}, "color": {"field": "grp", "type": "nominal", "legend": null}}},
 {"data": {"name": "labels"}, "transform": [{"filter": "datum.p === 'e'"}], "mark": {"type": "text", "style": "letter"},
  "encoding": {"x": {"datum": -6.1, "type": "quantitative", "axis": null}, "y": {"datum": 1.18, "type": "quantitative", "axis": null}, "text": {"field": "letter"}}},
 {"data": {"name": "labels"}, "transform": [{"filter": "datum.p === 'e'"}], "mark": {"type": "text", "style": "pname"},
  "encoding": {"x": {"datum": 66.9, "type": "quantitative", "axis": null}, "y": {"datum": 1.083, "type": "quantitative", "axis": null}, "text": {"field": "name"}}},
 {"data": {"name": "labels"}, "transform": [{"filter": "datum.p === 'e'"}], "mark": {"type": "text", "style": "logrank"},
  "encoding": {"x": {"datum": 152.6, "type": "quantitative", "axis": null}, "y": {"datum": 0.929, "type": "quantitative", "axis": null}, "text": {"field": "logrank"}}},
 {"data": {"name": "labels"}, "transform": [{"filter": "datum.p === 'e'"}], "mark": {"type": "text", "style": "ncap"},
  "encoding": {"x": {"datum": 58.5, "type": "quantitative", "axis": null}, "y": {"datum": -0.44, "type": "quantitative", "axis": null}, "text": {"field": "n"}}}
]},
{"width": 27, "height": 112, "data": {"values": []}, "mark": "point", "view": {"stroke": null}},
{"width": 148, "height": 112, "resolve": {"axis": {"x": "independent", "y": "independent"}}, "layer": [
 {"data": {"name": "curves"}, "transform": [{"filter": "datum.p === 'f'"}], "mark": {"type": "line", "interpolate": "step-after", "strokeWidth": 1.3},
  "encoding": {
   "x": {"field": "month", "type": "quantitative", "scale": {"domain": [-3, 167.7], "nice": false, "zero": false}, "axis": {"values": [0, 50, 100, 150], "labelOverlap": false, "labelFlush": false, "title": "Time (months)", "titleX": 75, "titleY": 24.5, "labelPadding": 3.7}},
   "y": {"field": "surv", "type": "quantitative", "scale": {"domain": [-0.04, 1.04], "nice": false, "zero": false}, "axis": {"values": [0, 0.2, 0.4, 0.6, 0.8, 1], "labelOverlap": false, "labelFlush": false, "format": ".1f", "title": null, "labelPadding": 5}},
   "color": {"field": "grp", "type": "nominal", "scale": {"domain": ["G1", "G2"], "range": ["#3c3c3c", "#e2312f"]}, "legend": null}}},
 {"data": {"name": "censors"}, "transform": [{"filter": "datum.p === 'f'"}], "mark": {"type": "point", "shape": "M0,-1L0,1M-1,0L1,0", "filled": false, "size": 14, "strokeWidth": 1, "opacity": 1},
  "encoding": {"x": {"field": "month", "type": "quantitative", "axis": null}, "y": {"field": "surv", "type": "quantitative", "axis": null}, "color": {"field": "grp", "type": "nominal", "legend": null}}},
 {"data": {"name": "labels"}, "transform": [{"filter": "datum.p === 'f'"}], "mark": {"type": "text", "style": "letter"},
  "encoding": {"x": {"datum": -26.9, "type": "quantitative", "axis": null}, "y": {"datum": 1.18, "type": "quantitative", "axis": null}, "text": {"field": "letter"}}},
 {"data": {"name": "labels"}, "transform": [{"filter": "datum.p === 'f'"}], "mark": {"type": "text", "style": "pname"},
  "encoding": {"x": {"datum": 72, "type": "quantitative", "axis": null}, "y": {"datum": 1.074, "type": "quantitative", "axis": null}, "text": {"field": "name"}}},
 {"data": {"name": "labels"}, "transform": [{"filter": "datum.p === 'f'"}], "mark": {"type": "text", "style": "logrank"},
  "encoding": {"x": {"datum": 163.1, "type": "quantitative", "axis": null}, "y": {"datum": 0.862, "type": "quantitative", "axis": null}, "text": {"field": "logrank"}}},
 {"data": {"name": "labels"}, "transform": [{"filter": "datum.p === 'f'"}], "mark": {"type": "text", "style": "ncap"},
  "encoding": {"x": {"datum": 71.2, "type": "quantitative", "axis": null}, "y": {"datum": -0.44, "type": "quantitative", "axis": null}, "text": {"field": "n"}}}
]},
{"width": 15, "height": 112, "data": {"values": []}, "mark": "point", "view": {"stroke": null}},
{"width": 151, "height": 112, "view": {"stroke": null}, "resolve": {"axis": {"x": "independent", "y": "independent"}}, "layer": [
 {"data": {"name": "curves"}, "transform": [{"filter": "datum.p === 'g'"}], "mark": {"type": "line", "interpolate": "step-after", "strokeWidth": 1.7},
  "encoding": {
   "x": {"field": "month", "type": "quantitative", "scale": {"domain": [0, 150], "nice": false, "zero": false}, "axis": {"values": [0, 50, 100, 150], "labelOverlap": false, "labelFlush": false, "title": "Time (months)", "titleX": 78, "titleY": 21.8, "titleFontSize": 7.5, "labelFontSize": 7.5, "labelPadding": -1, "domain": true, "domainColor": "#000", "domainWidth": 1.2, "tickColor": "#000"}},
   "y": {"field": "surv", "type": "quantitative", "scale": {"domain": [0, 1.13], "nice": false, "zero": false}, "axis": {"values": [0, 0.2, 0.4, 0.6, 0.8, 1], "labelOverlap": false, "labelFlush": false, "format": ".1f", "title": null, "labelFontSize": 7.5, "labelPadding": 7.3, "tickColor": "#000"}},
   "color": {"field": "grp", "type": "nominal", "scale": {"domain": ["G1", "G2"], "range": ["#000000", "#cc1111"]}, "legend": null}}},
 {"data": {"name": "censors"}, "transform": [{"filter": "datum.p === 'g'"}], "mark": {"type": "point", "shape": "M0,-1L0,1", "filled": false, "size": 16, "strokeWidth": 1, "opacity": 1},
  "encoding": {"x": {"field": "month", "type": "quantitative", "axis": null}, "y": {"field": "surv", "type": "quantitative", "axis": null}, "color": {"field": "grp", "type": "nominal", "legend": null}}},
 {"data": {"name": "labels"}, "transform": [{"filter": "datum.p === 'g'"}], "mark": {"type": "rule", "color": "#000", "strokeWidth": 1.2},
  "encoding": {"x": {"datum": 0, "type": "quantitative", "axis": null}, "y": {"datum": 0, "type": "quantitative", "axis": null}, "y2": {"datum": 1}}},
 {"data": {"name": "labels"}, "transform": [{"filter": "datum.p === 'g'"}], "mark": {"type": "text", "style": "letter"},
  "encoding": {"x": {"datum": -16.9, "type": "quantitative", "axis": null}, "y": {"datum": 1.276, "type": "quantitative", "axis": null}, "text": {"field": "letter"}}},
 {"data": {"name": "labels"}, "transform": [{"filter": "datum.p === 'g'"}], "mark": {"type": "text", "style": "pname", "fontSize": 14},
  "encoding": {"x": {"datum": 54.6, "type": "quantitative", "axis": null}, "y": {"datum": 1.142, "type": "quantitative", "axis": null}, "text": {"field": "name"}}},
 {"data": {"name": "labels"}, "transform": [{"filter": "datum.p === 'g'"}], "mark": {"type": "text", "style": "logrank", "align": "center", "fontSize": 11},
  "encoding": {"x": {"datum": 95.7, "type": "quantitative", "axis": null}, "y": {"datum": 0.906, "type": "quantitative", "axis": null}, "text": {"field": "logrank"}}},
 {"data": {"name": "labels"}, "transform": [{"filter": "datum.p === 'g'"}], "mark": {"type": "text", "style": "ncap"},
  "encoding": {"x": {"datum": 74.2, "type": "quantitative", "axis": null}, "y": {"datum": -0.419, "type": "quantitative", "axis": null}, "text": {"field": "n"}}}
]}
],
"spacing": 0, "bounds": "flush", "resolve": {"scale": {"color": "independent"}}
}
],
"spacing": 27,
"bounds": "full",
"resolve": {"scale": {"color": "independent"}},
"config": {
 "view": {"stroke": "#9a9a9a", "strokeWidth": 1},
 "axis": {"domain": false, "grid": false, "ticks": true, "tickColor": "#8a8a8a", "tickSize": 3, "tickWidth": 1, "labelFont": "Liberation Serif", "labelFontWeight": "bold", "labelFontSize": 8, "labelColor": "#111", "labelOverlap": false, "labelFlush": false, "titleFont": "Liberation Sans", "titleFontWeight": "bold", "titleFontSize": 9.5, "titleColor": "#111"},
 "axisX": {"titleAlign": "center", "titleBaseline": "alphabetic", "titleAngle": 0},
 "axisY": {"labelAngle": -90, "labelAlign": "center", "labelBaseline": "alphabetic", "titleAngle": -90, "titleAlign": "center", "titleBaseline": "alphabetic"},
 "style": {
  "letter": {"font": "Liberation Sans", "fontWeight": "bold", "fontSize": 16, "align": "left", "baseline": "alphabetic", "color": "#000"},
  "pname": {"font": "Lato", "fontSize": 13.5, "align": "center", "baseline": "alphabetic", "color": "#111"},
  "logrank": {"font": "Lato", "fontSize": 10.5, "align": "right", "baseline": "alphabetic", "color": "#222"},
  "ncap": {"font": "Lato", "fontSize": 11, "align": "center", "baseline": "alphabetic", "color": "#222"}
 }
}
}
